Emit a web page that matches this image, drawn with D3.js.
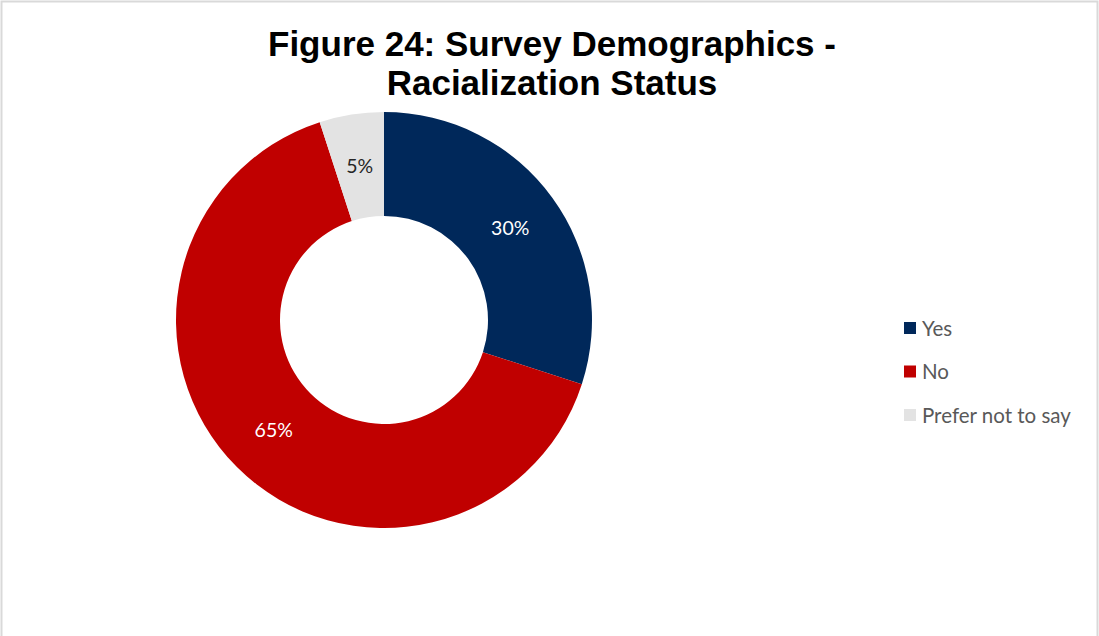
<!DOCTYPE html>
<html><head><meta charset="utf-8">
<script src="https://cdn.jsdelivr.net/npm/d3@7"></script>
<style>body{margin:0;background:#fff}</style></head>
<body><svg id="c" width="1099" height="636"></svg>
<script>
const categories = ["Yes", "No", "Prefer not to say"];
const values = [30, 65, 5];
const colors = ["#00285A", "#C00000", "#E3E3E3"];
const labelColors = ["#ffffff", "#ffffff", "#262626"];
const titleLines = ["Figure 24: Survey Demographics -", "Racialization Status"];

const svg = d3.select("#c");
svg.append("rect").attr("x",1.5).attr("y",1.5).attr("width",1096).attr("height",640)
  .attr("fill","#fff").attr("stroke","#D9D9D9").attr("stroke-width",2);

svg.append("text").attr("x",552).attr("text-anchor","middle")
  .attr("font-family","Liberation Sans, Arial, sans-serif").attr("font-weight","bold")
  .attr("font-size",35).attr("fill","#000")
  .selectAll("tspan").data(titleLines).join("tspan")
  .attr("x",552).attr("y",(d,i)=>56+i*39).text(d=>d);

const cx=384, cy=320, R=208, r=104;
const pie = d3.pie().sort(null).value(d=>d.v);
const data = pie(categories.map((c,i)=>({c, v: values[i], i})));
const arc = d3.arc().innerRadius(r).outerRadius(R);
const g = svg.append("g").attr("transform",`translate(${cx},${cy})`);
g.selectAll("path").data(data).join("path").attr("d",arc)
  .attr("fill",d=>colors[d.data.i]);
g.selectAll("text").data(data).join("text")
  .attr("transform",d=>`translate(${arc.centroid(d)})`)
  .attr("text-anchor","middle").attr("dy","0.35em")
  .attr("font-family","Lato, Open Sans, sans-serif").attr("font-size",19.5)
  .attr("fill",d=>labelColors[d.data.i])
  .text(d=>d.data.v+"%");

const lg = svg.append("g");
const items = lg.selectAll("g").data(categories).join("g")
  .attr("transform",(d,i)=>`translate(904,${322+i*43.5})`);
items.append("rect").attr("width",12).attr("height",12).attr("fill",(d,i)=>colors[i]);
items.append("text").attr("x",18).attr("y",13.5).attr("font-family","Lato, Open Sans, sans-serif")
  .attr("font-size",20.5).attr("fill","#595959").text(d=>d);
</script></body></html>
